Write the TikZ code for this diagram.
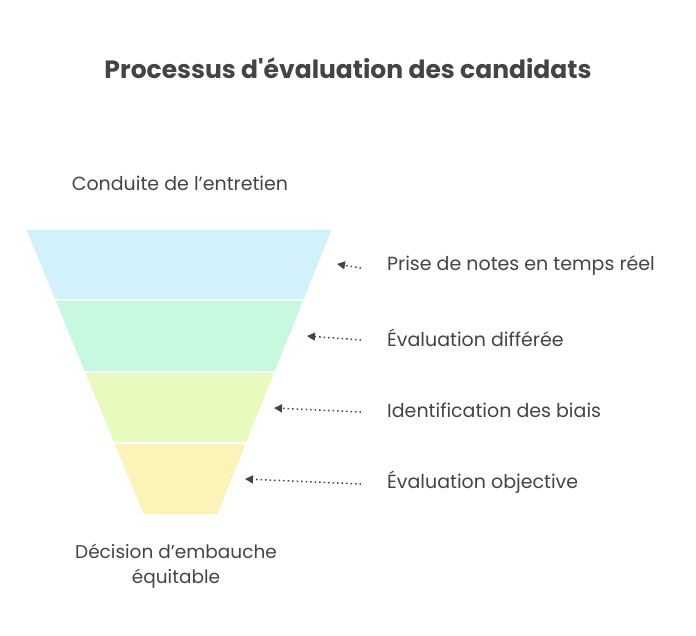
\documentclass[tikz,border=0pt]{standalone}
\usepackage{fontspec}
\setmainfont{Poppins}
\newfontfamily\titlefont{Poppins}
\usetikzlibrary{arrows.meta}
\definecolor{txt}{HTML}{444444}
\definecolor{bandA}{HTML}{D3F1FA}
\definecolor{bandB}{HTML}{C6F9E0}
\definecolor{bandC}{HTML}{E8FBBE}
\definecolor{bandD}{HTML}{FCF3B8}
\tikzset{
  band/.style={draw=white, line width=1.5pt},
  lbl/.style={text=txt, font=\fontsize{19}{22}\selectfont, anchor=west, inner sep=0pt},
  ptr/.style={txt, dash pattern=on 1.5pt off 3pt, line width=1.5pt, -{Triangle[length=8pt,width=8pt]}},
}
\begin{document}
\begin{tikzpicture}[x=1pt,y=-1pt]
\useasboundingbox (0,0) rectangle (696,636);
\node[text=txt, font=\titlefont\bfseries\fontsize{25}{28}\selectfont] (title) at (348,68) {Processus d'évaluation des candidats};
\node[text=txt, font=\fontsize{19}{22}\selectfont] (top) at (180,183) {Conduite de l'entretien};
\node[text=txt, font=\fontsize{18.5}{25}\selectfont, align=center] (bottom) at (176,566) {Décision d'embauche\\équitable};
\fill[bandA, band] (25,229) -- (333,229) -- (304.5,300) -- (54.3,300) -- cycle;
\fill[bandB, band] (54.3,300) -- (304.5,300) -- (275.5,372) -- (84,372) -- cycle;
\fill[bandC, band] (84,372) -- (275.5,372) -- (247,443) -- (113.3,443) -- cycle;
\fill[bandD, band] (113.3,443) -- (247,443) -- (218,515) -- (143,515) -- cycle;
\draw[band] (25,229) -- (333,229) -- (218,515) -- (143,515) -- cycle;
\node[lbl] (l1) at (387,266) {Prise de notes en temps réel};
\node[lbl] (l2) at (387,338) {Évaluation différée};
\node[lbl] (l3) at (387,410) {Identification des biais};
\node[lbl] (l4) at (387,482) {Évaluation objective};
\coordinate (t1) at (337,264);
\coordinate (t2) at (307,336);
\coordinate (t3) at (274,408);
\coordinate (t4) at (245,479);
\draw[ptr] ([xshift=-26pt,yshift=-2pt]l1.west) -- (t1);
\draw[ptr] ([xshift=-26pt,yshift=-2pt]l2.west) -- (t2);
\draw[ptr] ([xshift=-26pt,yshift=-2pt]l3.west) -- (t3);
\draw[ptr] ([xshift=-26pt,yshift=-2pt]l4.west) -- (t4);
\end{tikzpicture}
\end{document}
